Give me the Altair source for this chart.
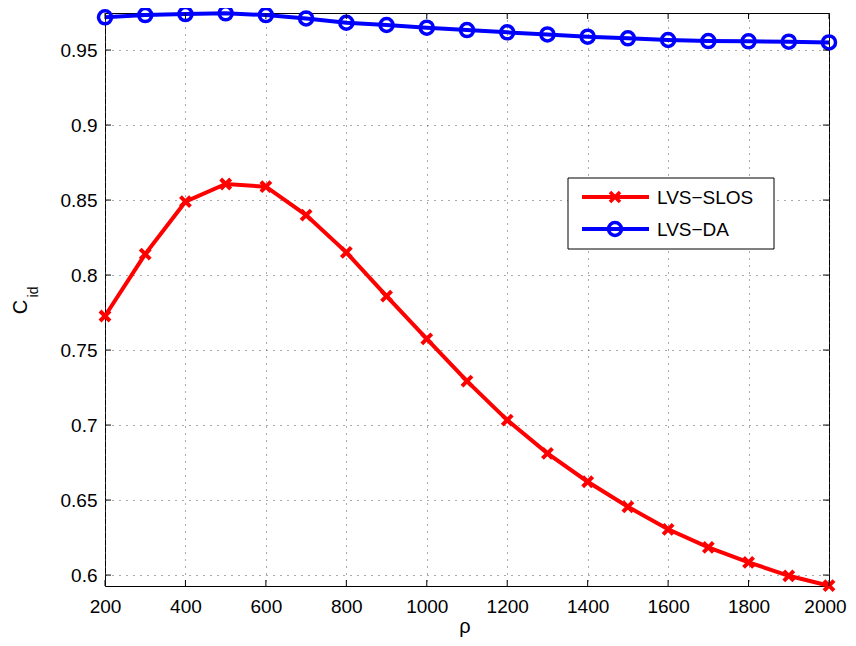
import altair as alt
import pandas as pd

rho = [200, 300, 400, 500, 600, 700, 800, 900, 1000, 1100, 1200, 1300, 1400,
       1500, 1600, 1700, 1800, 1900, 2000]
lvs_slos = [0.7727, 0.8140, 0.8489, 0.8607, 0.8589, 0.8400, 0.8151, 0.7860,
            0.7575, 0.7293, 0.7033, 0.6811, 0.6622, 0.6455, 0.6305, 0.6185,
            0.6085, 0.5995, 0.5929]
lvs_da = [0.9718, 0.9733, 0.9740, 0.9745, 0.9733, 0.9711, 0.9682, 0.9667,
          0.9649, 0.9633, 0.9618, 0.9604, 0.9589, 0.9578, 0.9567, 0.9560,
          0.9558, 0.9556, 0.9551]
x_ticks = [200, 400, 600, 800, 1000, 1200, 1400, 1600, 1800, 2000]
y_ticks = [0.6, 0.65, 0.7, 0.75, 0.8, 0.85, 0.9, 0.95]
series_names = ["LVS\u2212SLOS", "LVS\u2212DA"]
series_colors = ["#ff0000", "#0000ff"]

W, H = 724, 573
FONT = "Liberation Sans"
FS = 19

df = pd.DataFrame({
    "rho": rho * 2,
    "value": lvs_slos + lvs_da,
    "series": [series_names[0]] * len(rho) + [series_names[1]] * len(rho),
})
slos = df[df.series == series_names[0]]
da = df[df.series == series_names[1]]

xs = alt.Scale(domain=[200, 2000], nice=False, zero=False)
ys = alt.Scale(domain=[0.5927, 0.9747], nice=False, zero=False)

xenc = alt.X("rho:Q", scale=xs,
             axis=alt.Axis(values=x_ticks, title=None, grid=True, gridDash=[1, 6],
                           gridColor="#555", ticks=False, domain=False, format="d",
                           labelFont=FONT, labelFontSize=FS, labelColor="black",
                           labelPadding=11, labelFlush=False,
                           labelOffset={"expr": "datum.value == 2000 ? -4 : 0"}))
yenc = alt.Y("value:Q", scale=ys,
             axis=alt.Axis(values=y_ticks, title=None, grid=True, gridDash=[1, 6],
                           gridColor="#555", ticks=False, domain=False, format=".2~f",
                           labelFont=FONT, labelFontSize=FS, labelColor="black",
                           labelPadding=8))

x_path = "M-1,-1L1,1M-1,1L1,-1"

line_slos = alt.Chart(slos).mark_line(color=series_colors[0], strokeWidth=4).encode(x=xenc, y=yenc)
pts_slos = alt.Chart(slos).mark_point(shape=x_path, color=series_colors[0], size=100,
                                      strokeWidth=4, filled=False, opacity=1).encode(x="rho:Q", y="value:Q")
line_da = alt.Chart(da).mark_line(color=series_colors[1], strokeWidth=4).encode(x="rho:Q", y="value:Q")
pts_da = alt.Chart(da).mark_point(shape="circle", color=series_colors[1], size=170,
                                  strokeWidth=3.5, filled=False, opacity=1).encode(x="rho:Q", y="value:Q")

# inward ticks on all four sides
xt = pd.DataFrame({"t": x_ticks})
yt = pd.DataFrame({"t": y_ticks})
tick_b = alt.Chart(xt).mark_rule(color="black", strokeWidth=1).encode(
    x=alt.X("t:Q", scale=xs), y=alt.value(H), y2=alt.value(H - 6))
tick_t = alt.Chart(xt).mark_rule(color="black", strokeWidth=1).encode(
    x=alt.X("t:Q", scale=xs), y=alt.value(0), y2=alt.value(6))
tick_l = alt.Chart(yt).mark_rule(color="black", strokeWidth=1).encode(
    y=alt.Y("t:Q", scale=ys), x=alt.value(0), x2=alt.value(6))
tick_r = alt.Chart(yt).mark_rule(color="black", strokeWidth=1).encode(
    y=alt.Y("t:Q", scale=ys), x=alt.value(W), x2=alt.value(W - 6))

# axis titles
title_c = alt.Chart(pd.DataFrame({"t": ["C"]})).mark_text(
    font=FONT, fontSize=20, angle=270, color="black").encode(
    text="t:N", x=alt.value(-84), y=alt.value(294))
title_id = alt.Chart(pd.DataFrame({"t": ["id"]})).mark_text(
    font=FONT, fontSize=14, angle=270, color="black").encode(
    text="t:N", x=alt.value(-71), y=alt.value(279))
title_rho = alt.Chart(pd.DataFrame({"t": ["\u03c1"]})).mark_text(
    font=FONT, fontSize=20, color="black", baseline="alphabetic").encode(
    text="t:N", x=alt.value(360), y=alt.value(620))

# legend
leg_box = alt.Chart(pd.DataFrame({"a": [0]})).mark_rect(
    fill="white", stroke="black", strokeWidth=1).encode(
    x=alt.value(463), x2=alt.value(669), y=alt.value(165), y2=alt.value(236))
leg_layers = [leg_box]
leg_y = [184, 216]
for name, col, shp, sz, ly in zip(series_names, series_colors,
                                   [x_path, "circle"], [100, 170], leg_y):
    d = pd.DataFrame({"s": [name]})
    leg_layers.append(alt.Chart(d).mark_rule(color=col, strokeWidth=4).encode(
        x=alt.value(477), x2=alt.value(544), y=alt.value(ly)))
    leg_layers.append(alt.Chart(d).mark_point(shape=shp, color=col, size=sz, strokeWidth=3.5,
                                             filled=False, opacity=1).encode(
        x=alt.value(510), y=alt.value(ly)))
    leg_layers.append(alt.Chart(d).mark_text(font=FONT, fontSize=FS, align="left",
                                            baseline="middle", color="black").encode(
        text="s:N", x=alt.value(552), y=alt.value(ly + 1)))

chart = alt.layer(
    line_slos, line_da, pts_slos, pts_da,
    tick_b, tick_t, tick_l, tick_r,
    title_c, title_id, title_rho,
    *leg_layers,
).properties(
    width=W, height=H,
    autosize=alt.AutoSizeParams(type="none"),
    padding={"left": 97, "top": 5, "right": 19, "bottom": 52},
    background="white",
).configure_view(stroke="black", strokeWidth=1)

chart.save("out.html", embed_options={"renderer": "svg", "actions": False})
